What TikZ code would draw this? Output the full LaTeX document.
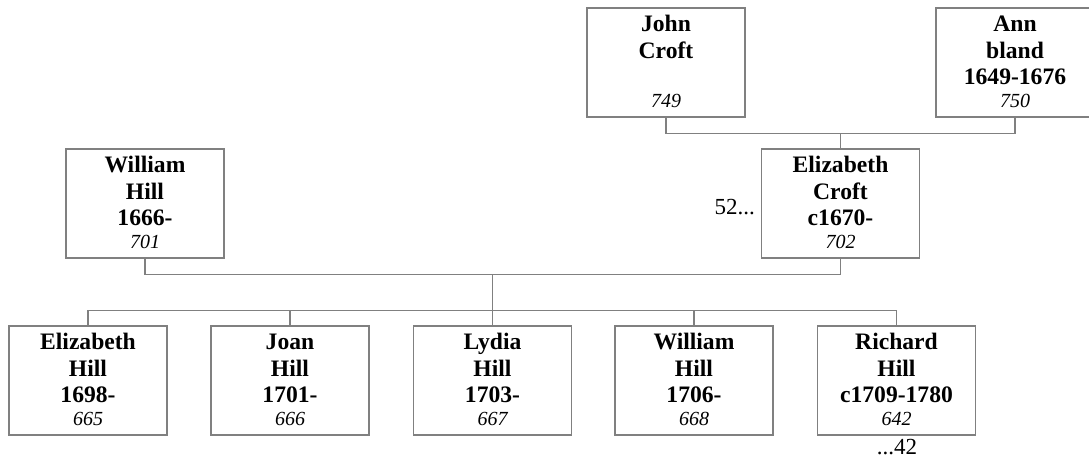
\documentclass[tikz,border=0pt]{standalone}
\usepackage{fontspec}
\setmainfont{Liberation Serif}
\usetikzlibrary{calc}
\definecolor{linegray}{RGB}{128,128,128}
\tikzset{
  pbox/.style={draw=linegray, line width=1.1pt, fill=white, minimum width=158pt, minimum height=109pt, inner sep=0pt},
  bl/.style={inner sep=0pt, anchor=base, font=\fontsize{23.6}{27}\selectfont\bfseries},
  nm/.style={inner sep=0pt, anchor=base, font=\fontsize{20}{24}\selectfont\itshape},
  note/.style={inner sep=0pt, font=\fontsize{23}{27}\selectfont},
  conn/.style={draw=linegray, line width=1.1pt}
}
\newcommand\personfour[7]{%
  \node[pbox] (#1) at (#2,#3+54.5) {};
  \node[bl] (#1-a) at ($(#1.north)+(0,24.5)$) {#4};
  \node[bl] (#1-b) at ($(#1.north)+(0,51)$) {#5};
  \node[bl] (#1-c) at ($(#1.north)+(0,77.5)$) {#6};
  \node[nm] (#1-n) at ($(#1.north)+(0,100.5)$) {#7};
}
\newcommand\personthree[6]{%
  \node[pbox] (#1) at (#2,#3+54.5) {};
  \node[bl] (#1-a) at ($(#1.north)+(0,24.5)$) {#4};
  \node[bl] (#1-b) at ($(#1.north)+(0,51)$) {#5};
  \node[nm] (#1-n) at ($(#1.north)+(0,100.5)$) {#6};
}
\begin{document}
\begin{tikzpicture}[x=1pt,y=-1pt]
\useasboundingbox (0,0) rectangle (1089,461);
\fill[white] (0,0) rectangle (1089,461);
% top row
\personthree{john}{666}{8}{John}{Croft}{749}
\personfour{ann}{1015}{8}{Ann}{bland}{1649-1676}{750}
% middle row
\personfour{whill}{145}{149}{William}{Hill}{1666-}{701}
\personfour{ecroft}{840.5}{149}{Elizabeth}{Croft}{c1670-}{702}
% children
\personfour{ehill}{88}{326}{Elizabeth}{Hill}{1698-}{665}
\personfour{jhill}{290}{326}{Joan}{Hill}{1701-}{666}
\personfour{lhill}{492.5}{326}{Lydia}{Hill}{1703-}{667}
\personfour{wjhill}{694}{326}{William}{Hill}{1706-}{668}
\personfour{rhill}{896.5}{326}{Richard}{Hill}{c1709-1780}{642}
% connectors: John & Ann -> Elizabeth Croft
\coordinate (jm) at ($(john.south)+(0,16)$);
\draw[conn] (john.south) -- (jm) -| (ann.south);
\draw[conn] (ecroft.north) -- (ecroft.north |- jm);
% William Hill & Elizabeth Croft -> children
\coordinate (pm) at ($(whill.south)+(0,16)$);
\draw[conn] (whill.south) -- (pm) -| (ecroft.south);
\coordinate (fam) at ($(pm)!0.5!(pm -| ecroft.south)$);
\coordinate (kl) at ($(fam)+(0,36)$);
\draw[conn] (fam) -- (kl);
\draw[conn] (ehill.north) -- (ehill.north |- kl) -- (rhill.north |- kl) -- (rhill.north);
\draw[conn] (jhill.north) -- (jhill.north |- kl);
\draw[conn] (lhill.north) -- (lhill.north |- kl);
\draw[conn] (wjhill.north) -- (wjhill.north |- kl);
% notes
\node[note, anchor=base east] (n52) at (755,214) {52...};
\node[note, anchor=base] (n42) at (897,454) {...42};
\end{tikzpicture}
\end{document}
